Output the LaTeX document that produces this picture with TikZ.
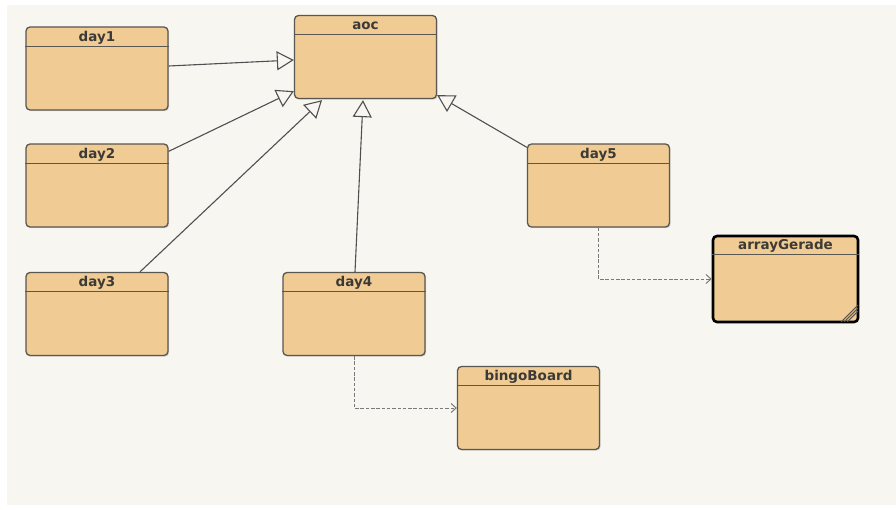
\documentclass[tikz,border=0pt]{standalone}
\usepackage{fontspec}
\setmainfont{DejaVu Sans}
\usetikzlibrary{arrows.meta,shadows,calc}
\definecolor{bgc}{HTML}{F7F6F1}
\definecolor{boxfill}{HTML}{F0CB94}
\definecolor{boxline}{HTML}{5A5650}
\definecolor{txtc}{HTML}{3C3A36}
\definecolor{edgec}{HTML}{505050}
\definecolor{depc}{HTML}{7A7A7A}
\tikzset{
  classbox/.style={draw=boxline, line width=1.3pt, fill=boxfill, rounded corners=4pt,
    minimum width=142pt, minimum height=83pt, inner sep=0pt,
    drop shadow={opacity=0.25, shadow xshift=1.2pt, shadow yshift=-1.2pt}},
  thickbox/.style={classbox, draw=black, line width=2.6pt, minimum width=145pt, minimum height=86pt},
  classtitle/.style={anchor=base, font=\bfseries\fontsize{13.5}{14}\selectfont, text=txtc, inner sep=0pt},
  headline/.style={draw=boxline, line width=1.2pt},
  inherit/.style={draw=edgec, line width=1.1pt, -{Triangle[open, length=17pt, width=19pt, line width=1.1pt]}},
  depend/.style={draw=depc, line width=1pt, dash pattern=on 3.5pt off 1.8pt,
    -{Straight Barb[length=5pt, width=9pt, line width=1pt]}}
}
\newcommand\umlclass[5][classbox]{%
  \node[#1] (#2) at (#3) {};
  \node[classtitle] (#2-t) at ([yshift=-15pt]#2.north) {#4};
  \draw[headline] ([yshift=-#5]#2.north west) -- ([yshift=-#5]#2.north east);
}
\begin{document}
\begin{tikzpicture}[x=1pt, y=-1pt]
  \fill[white] (0,0) rectangle (896,509);
  \fill[bgc] (7,5) rectangle (896,505);
  \useasboundingbox (0,0) rectangle (896,509);

  \umlclass{aoc}{365.5,57}{aoc}{20pt}
  \umlclass{day1}{97,68.5}{day1}{20pt}
  \umlclass{day2}{97,185.5}{day2}{20pt}
  \umlclass{day3}{97,314}{day3}{20pt}
  \umlclass{day4}{354,314}{day4}{20pt}
  \umlclass{day5}{598.5,185.5}{day5}{20pt}
  \umlclass{bingoBoard}{528.5,408}{bingoBoard}{20pt}
  \umlclass[thickbox]{arrayGerade}{785.5,279}{arrayGerade}{20pt}
  \draw[headline] ([yshift=-20pt]arrayGerade.north west) -- ([yshift=-20pt]arrayGerade.north east);
  % hatch at bottom right of arrayGerade
  \foreach \d in {4,7,10} {
    \draw[boxline, line width=0.9pt] ([xshift=-\d pt-8pt, yshift=1.5pt]arrayGerade.south east) -- ([xshift=-1.5pt, yshift=\d pt+8pt]arrayGerade.south east);
  }

  % generalizations
  \draw[inherit] ([yshift=2.5pt]day1.east) -- ([yshift=-3pt]aoc.west);
  \draw[inherit] ([yshift=-8pt]day2.north east) -- ([yshift=8pt]aoc.south west);
  \draw[inherit] ([xshift=43pt]day3.north) -- ([xshift=-43.5pt, yshift=-1pt]aoc.south);
  \draw[inherit] ([xshift=1pt]day4.north) -- ([xshift=-2.5pt, yshift=-1pt]aoc.south);
  \draw[inherit] ([yshift=-4pt]day5.north west) -- ([yshift=4pt]aoc.south east);

  % dependencies
  \draw[depend] (day5.south) |- (arrayGerade.west);
  \draw[depend] (day4.south) |- (bingoBoard.west);
\end{tikzpicture}
\end{document}
